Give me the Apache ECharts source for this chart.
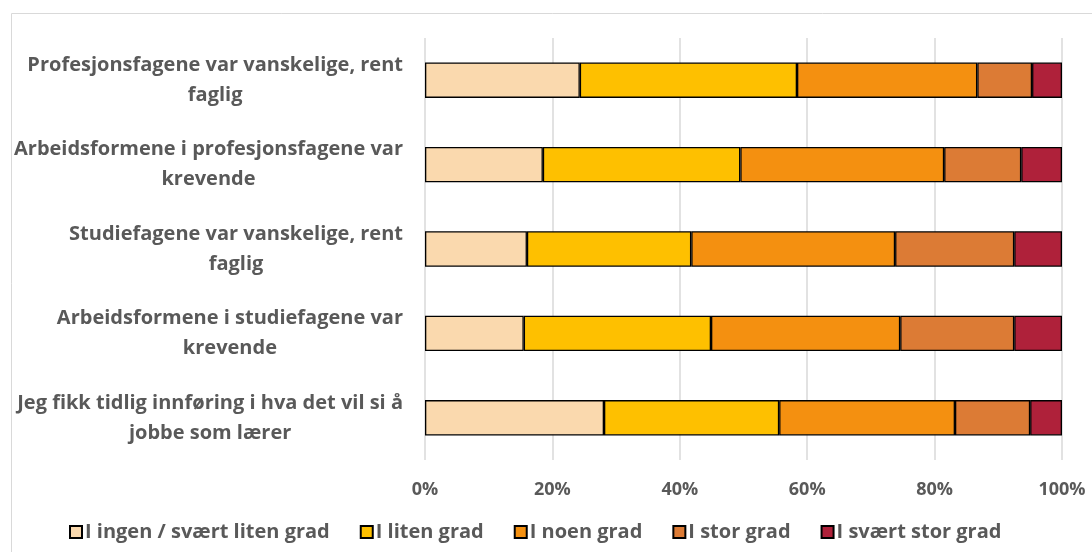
<!DOCTYPE html>
<html>
<head>
    <meta charset="UTF-8">
    <title>Chart</title>
    <style>
        html, body {
            margin: 0;
            padding: 0;
            background: #fff;
        }
    </style>
    <script src="https://cdn.jsdelivr.net/npm/echarts@6/dist/echarts.min.js"></script>
</head>
<body>
<div id="main" style="width: 1092px; height: 552px;"></div>

<script type="text/javascript">
    // kategorier (ovenfra og ned)
    var categories = [
        'Profesjonsfagene var vanskelige, rent\nfaglig',
        'Arbeidsformene i profesjonsfagene var\nkrevende',
        'Studiefagene var vanskelige, rent\nfaglig',
        'Arbeidsformene i studiefagene var\nkrevende',
        'Jeg fikk tidlig innføring i hva det vil si å\njobbe som lærer'
    ];
    var seriesNames = ['I ingen / svært liten grad', 'I liten grad', 'I noen grad', 'I stor grad', 'I svært stor grad'];
    var ingen = [24.3, 18.5, 16.0, 15.5, 28.1];
    var liten = [34.1, 31.0, 25.8, 29.4, 27.5];
    var noen = [28.3, 32.0, 32.0, 29.7, 27.6];
    var stor = [8.6, 12.1, 18.7, 17.9, 11.8];
    var svaertStor = [4.7, 6.4, 7.5, 7.5, 5.0];
    var tickValues = [0, 20, 40, 60, 80, 100];
    var colors = ['#FAD9AE', '#FEC000', '#F49010', '#DC7B35', '#AF213A'];

    var font = '"Open Sans", sans-serif';
    var values = [ingen, liten, noen, stor, svaertStor];

    var myChart = echarts.init(document.getElementById('main'));
    var series = seriesNames.map(function (name, i) {
        return {
            name: name,
            type: 'bar',
            stack: 'total',
            barCategoryGap: '58%',
            data: values[i].slice().reverse(),
            itemStyle: {
                color: colors[i],
                borderColor: '#000',
                borderWidth: 1.3
            }
        };
    });

    var option = {
        animation: false,
        graphic: [{
            type: 'rect',
            left: 9,
            top: 11,
            shape: {width: 1100, height: 560},
            style: {fill: 'none', stroke: '#d9d9d9', lineWidth: 1}
        }],
        legend: {
            top: 517,
            left: 64,
            itemWidth: 12,
            itemHeight: 12,
            itemGap: 30,
            icon: 'rect',
            textStyle: {
                color: '#595959',
                fontSize: 20,
                fontWeight: 'bold',
                fontFamily: font,
                padding: [0, 0, 0, -2]
            },
            data: seriesNames
        },
        grid: {
            left: 425,
            right: 30,
            top: 38,
            bottom: 92
        },
        xAxis: {
            type: 'value',
            min: 0,
            max: 100,
            interval: 20,
            axisLine: {show: false},
            axisTick: {show: false},
            splitLine: {lineStyle: {color: '#d9d9d9', width: 1.5}},
            axisLabel: {
                margin: 21,
                color: '#595959',
                fontSize: 18,
                fontWeight: 'bold',
                fontFamily: font,
                formatter: function (v) {
                    return tickValues.indexOf(v) >= 0 ? v + '%' : '';
                }
            }
        },
        yAxis: {
            type: 'category',
            data: categories.slice().reverse(),
            axisLine: {show: false},
            axisTick: {show: false},
            axisLabel: {
                margin: 22,
                align: 'right',
                lineHeight: 30,
                formatter: function (v) {
                    return v.split('\n').map(function (s) {
                        return '{c|' + s + '}';
                    }).join('\n');
                },
                rich: {
                    c: {
                        align: 'center',
                        color: '#595959',
                        fontSize: 20,
                        fontWeight: 'bold',
                        fontFamily: font,
                        lineHeight: 30
                    }
                }
            }
        },
        series: series
    };
    myChart.setOption(option);
</script>
</body>
</html>
